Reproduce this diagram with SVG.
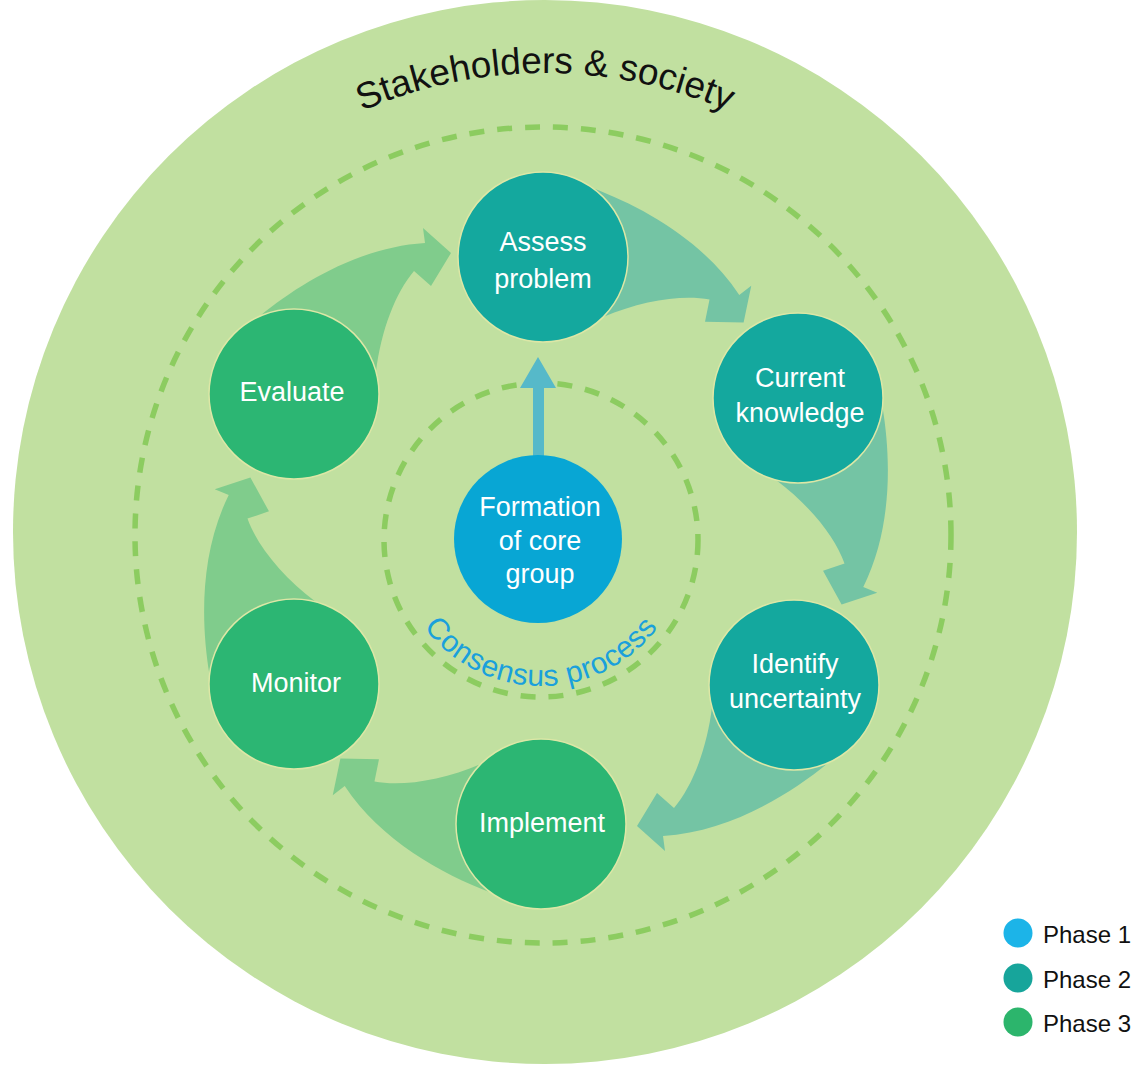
<svg xmlns="http://www.w3.org/2000/svg" xmlns:xlink="http://www.w3.org/1999/xlink" width="1132" height="1066" viewBox="0 0 1132 1066">
  <style>
    .ring { fill: none; stroke: #8ccc60; stroke-width: 5.5; stroke-dasharray: 15 13; }
    .phase1 { fill: #08a6d4; }
    .phase2 { fill: #14a89e; stroke: #dde7a6; stroke-width: 1.5; }
    .phase3 { fill: #2cb673; stroke: #dde7a6; stroke-width: 1.5; }
    .label { font-family: "Liberation Sans", Arial, sans-serif; font-size: 27px; fill: #ffffff; text-anchor: middle; }
    .flow2 { fill: #74c4a4; }
    .flow3 { fill: #80cc8c; }
    .legend { font-family: "Liberation Sans", Arial, sans-serif; font-size: 24px; fill: #111111; }
  </style>
  <defs>
    <!-- one curved arrow leaving a node of radius 85 centred at (294,394) -->
    <path id="flow" d="M 260,316 C 300,283 360,247 425,243 L 423,228 L 451,253 L 431,286 L 414,271 C 396,292 381,330 376,372 Z"/>
    <path id="outerArc" d="M 86,532 A 459 459 0 0 1 1004,532"/>
    <path id="innerArc" d="M 395,540 A 146 146 0 0 0 687,540"/>
  </defs>

  <rect width="1132" height="1066" fill="#ffffff"/>

  <!-- society ring -->
  <circle cx="545" cy="532" r="532" fill="#c1e0a0"/>
  <text font-family="Liberation Sans, Arial, sans-serif" font-size="37" fill="#111111">
    <textPath href="#outerArc" startOffset="50%" text-anchor="middle">Stakeholders &amp; society</textPath>
  </text>

  <circle class="ring" cx="543" cy="535" r="408"/>
  <circle class="ring" cx="541" cy="540" r="157"/>
  <text font-family="Liberation Sans, Arial, sans-serif" font-size="30" fill="#1aa0dc" letter-spacing="0.5">
    <textPath href="#innerArc" startOffset="50%" text-anchor="middle">Consensus process</textPath>
  </text>

  <g id="connectors">
    <use href="#flow" class="flow3" transform="translate(294 394) rotate(0) translate(-294 -394)"/>
    <use href="#flow" class="flow2" transform="translate(543 257) rotate(60) translate(-294 -394)"/>
    <use href="#flow" class="flow2" transform="translate(798 398) rotate(120) translate(-294 -394)"/>
    <use href="#flow" class="flow2" transform="translate(794 685) rotate(180) translate(-294 -394)"/>
    <use href="#flow" class="flow3" transform="translate(541 824) rotate(240) translate(-294 -394)"/>
    <use href="#flow" class="flow3" transform="translate(294 684) rotate(300) translate(-294 -394)"/>
    <path d="M 533,460 L 533,388 L 520,388 L 538,357 L 556,388 L 544,388 L 544,460 Z" fill="#56b9c9"/>
  </g>

  <g id="node-formation">
    <circle class="phase1" cx="538" cy="539" r="84"/>
    <text class="label" x="540" y="516">Formation</text>
    <text class="label" x="540" y="550">of core</text>
    <text class="label" x="540" y="583">group</text>
  </g>
  <g id="node-assess">
    <circle class="phase2" cx="543" cy="257" r="85"/>
    <text class="label" x="543" y="251">Assess</text>
    <text class="label" x="543" y="288">problem</text>
  </g>
  <g id="node-current">
    <circle class="phase2" cx="798" cy="398" r="85"/>
    <text class="label" x="800" y="387">Current</text>
    <text class="label" x="800" y="422">knowledge</text>
  </g>
  <g id="node-identify">
    <circle class="phase2" cx="794" cy="685" r="85"/>
    <text class="label" x="795" y="673">Identify</text>
    <text class="label" x="795" y="708">uncertainty</text>
  </g>
  <g id="node-implement">
    <circle class="phase3" cx="541" cy="824" r="85"/>
    <text class="label" x="542" y="832">Implement</text>
  </g>
  <g id="node-monitor">
    <circle class="phase3" cx="294" cy="684" r="85"/>
    <text class="label" x="296" y="692">Monitor</text>
  </g>
  <g id="node-evaluate">
    <circle class="phase3" cx="294" cy="394" r="85"/>
    <text class="label" x="292" y="401">Evaluate</text>
  </g>

  <g id="legend">
    <circle cx="1018" cy="933" r="14.5" fill="#1cb4e8"/>
    <text class="legend" x="1043" y="943">Phase 1</text>
    <circle cx="1018" cy="978" r="14.5" fill="#17a59b"/>
    <text class="legend" x="1043" y="988">Phase 2</text>
    <circle cx="1018" cy="1022" r="14.5" fill="#2cb56c"/>
    <text class="legend" x="1043" y="1032">Phase 3</text>
  </g>
</svg>
